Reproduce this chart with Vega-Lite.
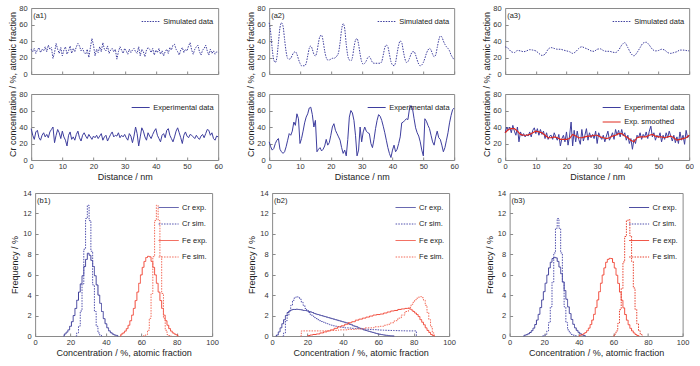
{
"$schema": "https://vega.github.io/schema/vega-lite/v6.json",
"background": "white",
"padding": {"left": 7, "top": 3, "right": 0, "bottom": 0},
"config": {
  "font": "Liberation Sans",
  "numberFormat": "d",
  "view": {"stroke": "#8a8a8a", "strokeWidth": 1},
  "axis": {"domain": false, "grid": false, "tickColor": "#8a8a8a", "tickSize": -3, "tickWidth": 1, "labelFontSize": 7.5, "labelColor": "#333333", "labelPadding": 5, "titleFontSize": 9, "titleFontWeight": "normal", "titleColor": "#222222", "labelFlush": false, "labelOverlap": false},
  "axisX": {"titlePadding": 3},
  "axisY": {"titlePadding": 3, "labelPadding": 7},
  "legend": {"orient": "top-right", "offset": 4, "padding": 0, "labelFontSize": 7.5, "labelColor": "#222222", "symbolType": "stroke", "symbolSize": 324, "symbolStrokeWidth": 1, "rowPadding": 1.5, "labelOffset": 3},
  "line": {"strokeWidth": 1}
},
"datasets": {
"a1s": [{"x":0,"y":30},{"x":0.5,"y":27},{"x":1,"y":31},{"x":1.5,"y":25},{"x":2,"y":29},{"x":2.5,"y":32},{"x":3,"y":26},{"x":3.5,"y":30},{"x":4,"y":28},{"x":4.5,"y":33},{"x":5,"y":27},{"x":5.5,"y":35},{"x":6,"y":30},{"x":6.5,"y":32},{"x":7,"y":19},{"x":7.5,"y":26},{"x":8,"y":37},{"x":8.5,"y":30},{"x":9,"y":25},{"x":9.5,"y":32},{"x":10,"y":22},{"x":10.5,"y":29},{"x":11,"y":33},{"x":11.5,"y":24},{"x":12,"y":28},{"x":12.5,"y":34},{"x":13,"y":25},{"x":13.5,"y":31},{"x":14,"y":27},{"x":14.5,"y":33},{"x":15,"y":37},{"x":15.5,"y":34},{"x":16,"y":28},{"x":16.5,"y":31},{"x":17,"y":26},{"x":17.5,"y":24},{"x":18,"y":30},{"x":18.5,"y":20},{"x":19,"y":32},{"x":19.5,"y":43},{"x":20,"y":35},{"x":20.5,"y":22},{"x":21,"y":30},{"x":21.5,"y":26},{"x":22,"y":33},{"x":22.5,"y":27},{"x":23,"y":38},{"x":23.5,"y":30},{"x":24,"y":28},{"x":24.5,"y":34},{"x":25,"y":25},{"x":25.5,"y":29},{"x":26,"y":31},{"x":26.5,"y":27},{"x":27,"y":30},{"x":27.5,"y":18},{"x":28,"y":27},{"x":28.5,"y":33},{"x":29,"y":29},{"x":29.5,"y":25},{"x":30,"y":31},{"x":30.5,"y":28},{"x":31,"y":24},{"x":31.5,"y":30},{"x":32,"y":26},{"x":32.5,"y":29},{"x":33,"y":31},{"x":33.5,"y":27},{"x":34,"y":25},{"x":34.5,"y":33},{"x":35,"y":22},{"x":35.5,"y":30},{"x":36,"y":27},{"x":36.5,"y":21},{"x":37,"y":29},{"x":37.5,"y":32},{"x":38,"y":30},{"x":38.5,"y":26},{"x":39,"y":31},{"x":39.5,"y":23},{"x":40,"y":29},{"x":40.5,"y":26},{"x":41,"y":31},{"x":41.5,"y":24},{"x":42,"y":28},{"x":42.5,"y":22},{"x":43,"y":27},{"x":43.5,"y":30},{"x":44,"y":25},{"x":44.5,"y":32},{"x":45,"y":29},{"x":45.5,"y":35},{"x":46,"y":36},{"x":46.5,"y":30},{"x":47,"y":27},{"x":47.5,"y":23},{"x":48,"y":29},{"x":48.5,"y":32},{"x":49,"y":26},{"x":49.5,"y":30},{"x":50,"y":28},{"x":50.5,"y":34},{"x":51,"y":38},{"x":51.5,"y":29},{"x":52,"y":24},{"x":52.5,"y":30},{"x":53,"y":33},{"x":53.5,"y":35},{"x":54,"y":27},{"x":54.5,"y":23},{"x":55,"y":29},{"x":55.5,"y":31},{"x":56,"y":35},{"x":56.5,"y":28},{"x":57,"y":23},{"x":57.5,"y":30},{"x":58,"y":25},{"x":58.5,"y":28},{"x":59,"y":24},{"x":59.5,"y":27},{"x":60,"y":26}],
"a1e": [{"x":0,"y":38},{"x":0.5,"y":30},{"x":1,"y":25},{"x":1.5,"y":34},{"x":2,"y":36},{"x":2.5,"y":27},{"x":3,"y":24},{"x":3.5,"y":30},{"x":4,"y":33},{"x":4.5,"y":28},{"x":5,"y":31},{"x":5.5,"y":27},{"x":6,"y":34},{"x":6.5,"y":37},{"x":7,"y":40},{"x":7.5,"y":21},{"x":8,"y":30},{"x":8.5,"y":37},{"x":9,"y":33},{"x":9.5,"y":26},{"x":10,"y":35},{"x":10.5,"y":28},{"x":11,"y":24},{"x":11.5,"y":17},{"x":12,"y":30},{"x":12.5,"y":34},{"x":13,"y":25},{"x":13.5,"y":28},{"x":14,"y":24},{"x":14.5,"y":31},{"x":15,"y":35},{"x":15.5,"y":27},{"x":16,"y":23},{"x":16.5,"y":30},{"x":17,"y":33},{"x":17.5,"y":29},{"x":18,"y":26},{"x":18.5,"y":31},{"x":19,"y":28},{"x":19.5,"y":25},{"x":20,"y":29},{"x":20.5,"y":27},{"x":21,"y":30},{"x":21.5,"y":26},{"x":22,"y":29},{"x":22.5,"y":32},{"x":23,"y":24},{"x":23.5,"y":28},{"x":24,"y":30},{"x":24.5,"y":23},{"x":25,"y":27},{"x":25.5,"y":31},{"x":26,"y":34},{"x":26.5,"y":28},{"x":27,"y":30},{"x":27.5,"y":29},{"x":28,"y":33},{"x":28.5,"y":27},{"x":29,"y":30},{"x":29.5,"y":28},{"x":30,"y":31},{"x":30.5,"y":27},{"x":31,"y":24},{"x":31.5,"y":32},{"x":32,"y":29},{"x":32.5,"y":21},{"x":33,"y":29},{"x":33.5,"y":40},{"x":34,"y":32},{"x":34.5,"y":17},{"x":35,"y":28},{"x":35.5,"y":39},{"x":36,"y":35},{"x":36.5,"y":28},{"x":37,"y":24},{"x":37.5,"y":33},{"x":38,"y":29},{"x":38.5,"y":26},{"x":39,"y":31},{"x":39.5,"y":35},{"x":40,"y":38},{"x":40.5,"y":30},{"x":41,"y":26},{"x":41.5,"y":22},{"x":42,"y":30},{"x":42.5,"y":32},{"x":43,"y":27},{"x":43.5,"y":36},{"x":44,"y":38},{"x":44.5,"y":30},{"x":45,"y":26},{"x":45.5,"y":22},{"x":46,"y":28},{"x":46.5,"y":35},{"x":47,"y":39},{"x":47.5,"y":33},{"x":48,"y":27},{"x":48.5,"y":20},{"x":49,"y":30},{"x":49.5,"y":34},{"x":50,"y":29},{"x":50.5,"y":27},{"x":51,"y":31},{"x":51.5,"y":30},{"x":52,"y":28},{"x":52.5,"y":26},{"x":53,"y":30},{"x":53.5,"y":27},{"x":54,"y":25},{"x":54.5,"y":29},{"x":55,"y":31},{"x":55.5,"y":27},{"x":56,"y":32},{"x":56.5,"y":37},{"x":57,"y":36},{"x":57.5,"y":30},{"x":58,"y":33},{"x":58.5,"y":26},{"x":59,"y":24},{"x":59.5,"y":29},{"x":60,"y":28}],
"a2s": [{"x":0,"y":62},{"x":0.5,"y":50},{"x":1,"y":30},{"x":1.5,"y":17},{"x":2,"y":14},{"x":2.5,"y":20},{"x":3,"y":38},{"x":3.5,"y":56},{"x":4,"y":62},{"x":4.5,"y":58},{"x":5,"y":42},{"x":5.5,"y":27},{"x":6,"y":19},{"x":6.5,"y":18},{"x":7,"y":19},{"x":7.5,"y":23},{"x":8,"y":26},{"x":8.5,"y":27},{"x":9,"y":24},{"x":9.5,"y":18},{"x":10,"y":13},{"x":10.5,"y":10},{"x":11,"y":10},{"x":11.5,"y":10},{"x":12,"y":13},{"x":12.5,"y":22},{"x":13,"y":31},{"x":13.5,"y":34},{"x":14,"y":30},{"x":14.5,"y":24},{"x":15,"y":22},{"x":15.5,"y":27},{"x":16,"y":38},{"x":16.5,"y":46},{"x":17,"y":47},{"x":17.5,"y":40},{"x":18,"y":28},{"x":18.5,"y":20},{"x":19,"y":17},{"x":19.5,"y":17},{"x":20,"y":18},{"x":20.5,"y":19},{"x":21,"y":19},{"x":21.5,"y":20},{"x":22,"y":22},{"x":22.5,"y":26},{"x":23,"y":38},{"x":23.5,"y":54},{"x":24,"y":61},{"x":24.5,"y":55},{"x":25,"y":36},{"x":25.5,"y":22},{"x":26,"y":17},{"x":26.5,"y":16},{"x":27,"y":20},{"x":27.5,"y":32},{"x":28,"y":41},{"x":28.5,"y":43},{"x":29,"y":36},{"x":29.5,"y":24},{"x":30,"y":15},{"x":30.5,"y":12},{"x":31,"y":13},{"x":31.5,"y":16},{"x":32,"y":20},{"x":32.5,"y":21},{"x":33,"y":18},{"x":33.5,"y":14},{"x":34,"y":13},{"x":34.5,"y":13},{"x":35,"y":13},{"x":35.5,"y":13},{"x":36,"y":13},{"x":36.5,"y":15},{"x":37,"y":23},{"x":37.5,"y":32},{"x":38,"y":35},{"x":38.5,"y":33},{"x":39,"y":24},{"x":39.5,"y":15},{"x":40,"y":11},{"x":40.5,"y":10},{"x":41,"y":14},{"x":41.5,"y":25},{"x":42,"y":35},{"x":42.5,"y":40},{"x":43,"y":38},{"x":43.5,"y":28},{"x":44,"y":19},{"x":44.5,"y":14},{"x":45,"y":15},{"x":45.5,"y":19},{"x":46,"y":24},{"x":46.5,"y":27},{"x":47,"y":27},{"x":47.5,"y":23},{"x":48,"y":17},{"x":48.5,"y":12},{"x":49,"y":10},{"x":49.5,"y":11},{"x":50,"y":14},{"x":50.5,"y":19},{"x":51,"y":25},{"x":51.5,"y":29},{"x":52,"y":31},{"x":52.5,"y":29},{"x":53,"y":24},{"x":53.5,"y":21},{"x":54,"y":23},{"x":54.5,"y":32},{"x":55,"y":41},{"x":55.5,"y":46},{"x":56,"y":45},{"x":56.5,"y":40},{"x":57,"y":36},{"x":57.5,"y":33},{"x":58,"y":31},{"x":58.5,"y":28},{"x":59,"y":23},{"x":59.5,"y":20},{"x":60,"y":17}],
"a2e": [{"x":0,"y":22},{"x":0.5,"y":16},{"x":1,"y":12},{"x":1.5,"y":14},{"x":2,"y":20},{"x":2.5,"y":24},{"x":3,"y":26},{"x":3.5,"y":13},{"x":4,"y":10},{"x":4.5,"y":8},{"x":5,"y":10},{"x":5.5,"y":16},{"x":6,"y":24},{"x":6.5,"y":32},{"x":7,"y":30},{"x":7.5,"y":35},{"x":8,"y":46},{"x":8.5,"y":42},{"x":9,"y":56},{"x":9.5,"y":50},{"x":10,"y":20},{"x":10.5,"y":26},{"x":11,"y":35},{"x":11.5,"y":45},{"x":12,"y":52},{"x":12.5,"y":56},{"x":13,"y":63},{"x":13.5,"y":64},{"x":14,"y":55},{"x":14.5,"y":40},{"x":15,"y":48},{"x":15.5,"y":10},{"x":16,"y":13},{"x":16.5,"y":15},{"x":17,"y":11},{"x":17.5,"y":13},{"x":18,"y":17},{"x":18.5,"y":25},{"x":19,"y":18},{"x":19.5,"y":21},{"x":20,"y":30},{"x":20.5,"y":40},{"x":21,"y":44},{"x":21.5,"y":36},{"x":22,"y":32},{"x":22.5,"y":28},{"x":23,"y":24},{"x":23.5,"y":15},{"x":24,"y":8},{"x":24.5,"y":12},{"x":25,"y":5},{"x":25.5,"y":25},{"x":26,"y":52},{"x":26.5,"y":60},{"x":27,"y":57},{"x":27.5,"y":48},{"x":28,"y":30},{"x":28.5,"y":5},{"x":29,"y":12},{"x":29.5,"y":40},{"x":30,"y":22},{"x":30.5,"y":34},{"x":31,"y":40},{"x":31.5,"y":35},{"x":32,"y":33},{"x":32.5,"y":32},{"x":33,"y":20},{"x":33.5,"y":15},{"x":34,"y":25},{"x":34.5,"y":38},{"x":35,"y":48},{"x":35.5,"y":55},{"x":36,"y":53},{"x":36.5,"y":48},{"x":37,"y":41},{"x":37.5,"y":33},{"x":38,"y":24},{"x":38.5,"y":15},{"x":39,"y":8},{"x":39.5,"y":3},{"x":40,"y":12},{"x":40.5,"y":18},{"x":41,"y":10},{"x":41.5,"y":13},{"x":42,"y":20},{"x":42.5,"y":28},{"x":43,"y":45},{"x":43.5,"y":46},{"x":44,"y":48},{"x":44.5,"y":50},{"x":45,"y":49},{"x":45.5,"y":62},{"x":46,"y":66},{"x":46.5,"y":62},{"x":47,"y":50},{"x":47.5,"y":39},{"x":48,"y":33},{"x":48.5,"y":29},{"x":49,"y":22},{"x":49.5,"y":12},{"x":50,"y":5},{"x":50.5,"y":50},{"x":51,"y":47},{"x":51.5,"y":42},{"x":52,"y":38},{"x":52.5,"y":30},{"x":53,"y":22},{"x":53.5,"y":18},{"x":54,"y":28},{"x":54.5,"y":35},{"x":55,"y":27},{"x":55.5,"y":25},{"x":56,"y":18},{"x":56.5,"y":10},{"x":57,"y":15},{"x":57.5,"y":24},{"x":58,"y":33},{"x":58.5,"y":45},{"x":59,"y":54},{"x":59.5,"y":61},{"x":60,"y":63}],
"a3s": [{"x":0,"y":33},{"x":1,"y":31},{"x":2,"y":27},{"x":3,"y":26},{"x":4,"y":28.5},{"x":5,"y":28},{"x":6,"y":27},{"x":7,"y":28},{"x":8,"y":29.5},{"x":9,"y":29},{"x":10,"y":28},{"x":11,"y":25},{"x":12,"y":22.5},{"x":13,"y":24},{"x":14,"y":30},{"x":15,"y":32},{"x":16,"y":31},{"x":17,"y":30},{"x":18,"y":30},{"x":19,"y":29},{"x":20,"y":28},{"x":21,"y":27},{"x":22,"y":25},{"x":23,"y":27},{"x":24,"y":31},{"x":25,"y":33},{"x":26,"y":31.5},{"x":27,"y":30},{"x":28,"y":28},{"x":29,"y":27.5},{"x":30,"y":30},{"x":31,"y":30.5},{"x":32,"y":28.5},{"x":33,"y":27.5},{"x":34,"y":27.5},{"x":35,"y":26.5},{"x":36,"y":26},{"x":37,"y":29},{"x":38,"y":35},{"x":39,"y":38},{"x":40,"y":32},{"x":41,"y":25},{"x":42,"y":22},{"x":43,"y":26},{"x":44,"y":32},{"x":45,"y":37.5},{"x":46,"y":38.5},{"x":47,"y":35},{"x":48,"y":30},{"x":49,"y":28},{"x":50,"y":28.5},{"x":51,"y":30},{"x":52,"y":29},{"x":53,"y":26},{"x":54,"y":25},{"x":55,"y":26},{"x":56,"y":27},{"x":57,"y":29},{"x":58,"y":29},{"x":59,"y":28.5},{"x":60,"y":28}],
"a3e": [{"x":0,"y":33},{"x":0.5,"y":40},{"x":1,"y":36},{"x":1.5,"y":40},{"x":2,"y":33},{"x":2.5,"y":42},{"x":3,"y":35},{"x":3.5,"y":30},{"x":4,"y":40},{"x":4.5,"y":22},{"x":5,"y":34},{"x":5.5,"y":29},{"x":6,"y":32},{"x":6.5,"y":28},{"x":7,"y":31},{"x":7.5,"y":29},{"x":8,"y":34},{"x":8.5,"y":28},{"x":9,"y":36},{"x":9.5,"y":39},{"x":10,"y":32},{"x":10.5,"y":38},{"x":11,"y":30},{"x":11.5,"y":37},{"x":12,"y":31},{"x":12.5,"y":35},{"x":13,"y":26},{"x":13.5,"y":33},{"x":14,"y":25},{"x":14.5,"y":29},{"x":15,"y":30},{"x":15.5,"y":25},{"x":16,"y":33},{"x":16.5,"y":28},{"x":17,"y":24},{"x":17.5,"y":31},{"x":18,"y":17},{"x":18.5,"y":26},{"x":19,"y":30},{"x":19.5,"y":22},{"x":20,"y":34},{"x":20.5,"y":18},{"x":21,"y":29},{"x":21.5,"y":46},{"x":22,"y":17},{"x":22.5,"y":36},{"x":23,"y":22},{"x":23.5,"y":35},{"x":24,"y":25},{"x":24.5,"y":19},{"x":25,"y":37},{"x":25.5,"y":23},{"x":26,"y":30},{"x":26.5,"y":38},{"x":27,"y":24},{"x":27.5,"y":33},{"x":28,"y":27},{"x":28.5,"y":31},{"x":29,"y":26},{"x":29.5,"y":35},{"x":30,"y":20},{"x":30.5,"y":33},{"x":31,"y":28},{"x":31.5,"y":25},{"x":32,"y":30},{"x":32.5,"y":22},{"x":33,"y":29},{"x":33.5,"y":35},{"x":34,"y":24},{"x":34.5,"y":28},{"x":35,"y":33},{"x":35.5,"y":25},{"x":36,"y":37},{"x":36.5,"y":30},{"x":37,"y":36},{"x":37.5,"y":28},{"x":38,"y":37},{"x":38.5,"y":29},{"x":39,"y":33},{"x":39.5,"y":24},{"x":40,"y":30},{"x":40.5,"y":20},{"x":41,"y":26},{"x":41.5,"y":13},{"x":42,"y":25},{"x":42.5,"y":20},{"x":43,"y":30},{"x":43.5,"y":27},{"x":44,"y":33},{"x":44.5,"y":25},{"x":45,"y":31},{"x":45.5,"y":28},{"x":46,"y":34},{"x":46.5,"y":26},{"x":47,"y":35},{"x":47.5,"y":41},{"x":48,"y":28},{"x":48.5,"y":33},{"x":49,"y":24},{"x":49.5,"y":30},{"x":50,"y":27},{"x":50.5,"y":33},{"x":51,"y":22},{"x":51.5,"y":30},{"x":52,"y":25},{"x":52.5,"y":33},{"x":53,"y":27},{"x":53.5,"y":35},{"x":54,"y":29},{"x":54.5,"y":23},{"x":55,"y":30},{"x":55.5,"y":21},{"x":56,"y":28},{"x":56.5,"y":20},{"x":57,"y":34},{"x":57.5,"y":24},{"x":58,"y":30},{"x":58.5,"y":19},{"x":59,"y":36},{"x":59.5,"y":27},{"x":60,"y":30}],
"a3m": [{"x":0,"y":33},{"x":1,"y":37},{"x":2,"y":38},{"x":3,"y":38},{"x":4,"y":35},{"x":5,"y":31},{"x":6,"y":30},{"x":7,"y":30},{"x":8,"y":31},{"x":9,"y":33},{"x":10,"y":35},{"x":11,"y":34},{"x":12,"y":33},{"x":13,"y":30},{"x":14,"y":27},{"x":15,"y":27},{"x":16,"y":28},{"x":17,"y":27},{"x":18,"y":25},{"x":19,"y":25},{"x":20,"y":25},{"x":21,"y":26},{"x":22,"y":31},{"x":23,"y":29},{"x":24,"y":27},{"x":25,"y":27},{"x":26,"y":28},{"x":27,"y":29},{"x":28,"y":29},{"x":29,"y":30},{"x":30,"y":30},{"x":31,"y":28},{"x":32,"y":27},{"x":33,"y":26},{"x":34,"y":27},{"x":35,"y":29},{"x":36,"y":30},{"x":37,"y":32},{"x":38,"y":32},{"x":39,"y":29},{"x":40,"y":27},{"x":41,"y":24},{"x":42,"y":22},{"x":43,"y":27},{"x":44,"y":28},{"x":45,"y":28},{"x":46,"y":28},{"x":47,"y":30},{"x":48,"y":31},{"x":49,"y":29},{"x":50,"y":28},{"x":51,"y":28},{"x":52,"y":27},{"x":53,"y":28},{"x":54,"y":29},{"x":55,"y":27},{"x":56,"y":24},{"x":57,"y":25},{"x":58,"y":26},{"x":59,"y":27},{"x":60,"y":30}],
"b1": [
{"s":"Cr exp.","x":16,"y":0},{"s":"Cr exp.","x":17,"y":0.2},{"s":"Cr exp.","x":18,"y":0.38},{"s":"Cr exp.","x":19,"y":0.6},{"s":"Cr exp.","x":20,"y":0.95},{"s":"Cr exp.","x":21,"y":1.4},{"s":"Cr exp.","x":22,"y":2.0},{"s":"Cr exp.","x":23,"y":2.7},{"s":"Cr exp.","x":24,"y":3.5},{"s":"Cr exp.","x":25,"y":4.3},{"s":"Cr exp.","x":26,"y":5.1},{"s":"Cr exp.","x":27,"y":5.9},{"s":"Cr exp.","x":28,"y":6.8},{"s":"Cr exp.","x":29,"y":7.5},{"s":"Cr exp.","x":30,"y":8.1},{"s":"Cr exp.","x":31,"y":7.9},{"s":"Cr exp.","x":32,"y":7.4},{"s":"Cr exp.","x":33,"y":6.8},{"s":"Cr exp.","x":34,"y":5.9},{"s":"Cr exp.","x":35,"y":5.0},{"s":"Cr exp.","x":36,"y":4.0},{"s":"Cr exp.","x":37,"y":3.2},{"s":"Cr exp.","x":38,"y":2.4},{"s":"Cr exp.","x":39,"y":1.7},{"s":"Cr exp.","x":40,"y":1.2},{"s":"Cr exp.","x":41,"y":0.8},{"s":"Cr exp.","x":42,"y":0.5},{"s":"Cr exp.","x":43,"y":0.32},{"s":"Cr exp.","x":44,"y":0.19},{"s":"Cr exp.","x":45,"y":0.1},{"s":"Cr exp.","x":46,"y":0.06},{"s":"Cr exp.","x":47,"y":0},
{"s":"Cr sim.","x":23,"y":0},{"s":"Cr sim.","x":24,"y":0.31},{"s":"Cr sim.","x":25,"y":0.97},{"s":"Cr sim.","x":26,"y":2.45},{"s":"Cr sim.","x":27,"y":5.1},{"s":"Cr sim.","x":28,"y":8.5},{"s":"Cr sim.","x":29,"y":11.5},{"s":"Cr sim.","x":30,"y":12.8},{"s":"Cr sim.","x":31,"y":11.3},{"s":"Cr sim.","x":32,"y":8.3},{"s":"Cr sim.","x":33,"y":5.0},{"s":"Cr sim.","x":34,"y":2.4},{"s":"Cr sim.","x":35,"y":0.95},{"s":"Cr sim.","x":36,"y":0.3},{"s":"Cr sim.","x":37,"y":0.08},{"s":"Cr sim.","x":38,"y":0},
{"s":"Fe exp.","x":48,"y":0},{"s":"Fe exp.","x":49,"y":0.19},{"s":"Fe exp.","x":50,"y":0.3},{"s":"Fe exp.","x":51,"y":0.48},{"s":"Fe exp.","x":52,"y":0.72},{"s":"Fe exp.","x":53,"y":1.05},{"s":"Fe exp.","x":54,"y":1.49},{"s":"Fe exp.","x":55,"y":2.04},{"s":"Fe exp.","x":56,"y":2.7},{"s":"Fe exp.","x":57,"y":3.47},{"s":"Fe exp.","x":58,"y":4.3},{"s":"Fe exp.","x":59,"y":5.16},{"s":"Fe exp.","x":60,"y":5.98},{"s":"Fe exp.","x":61,"y":6.72},{"s":"Fe exp.","x":62,"y":7.3},{"s":"Fe exp.","x":63,"y":7.68},{"s":"Fe exp.","x":64,"y":7.8},{"s":"Fe exp.","x":65,"y":7.75},{"s":"Fe exp.","x":66,"y":7.3},{"s":"Fe exp.","x":67,"y":6.72},{"s":"Fe exp.","x":68,"y":5.98},{"s":"Fe exp.","x":69,"y":5.16},{"s":"Fe exp.","x":70,"y":4.3},{"s":"Fe exp.","x":71,"y":3.47},{"s":"Fe exp.","x":72,"y":2.7},{"s":"Fe exp.","x":73,"y":2.04},{"s":"Fe exp.","x":74,"y":1.49},{"s":"Fe exp.","x":75,"y":1.05},{"s":"Fe exp.","x":76,"y":0.72},{"s":"Fe exp.","x":77,"y":0.48},{"s":"Fe exp.","x":78,"y":0.3},{"s":"Fe exp.","x":79,"y":0.19},{"s":"Fe exp.","x":80,"y":0.11},{"s":"Fe exp.","x":81,"y":0},
{"s":"Fe sim.","x":61,"y":0},{"s":"Fe sim.","x":62,"y":0.05},{"s":"Fe sim.","x":63,"y":0.14},{"s":"Fe sim.","x":64,"y":0.56},{"s":"Fe sim.","x":65,"y":1.73},{"s":"Fe sim.","x":66,"y":4.16},{"s":"Fe sim.","x":67,"y":7.77},{"s":"Fe sim.","x":68,"y":11.3},{"s":"Fe sim.","x":69,"y":12.8},{"s":"Fe sim.","x":70,"y":11.3},{"s":"Fe sim.","x":71,"y":7.77},{"s":"Fe sim.","x":72,"y":4.16},{"s":"Fe sim.","x":73,"y":1.73},{"s":"Fe sim.","x":74,"y":0.56},{"s":"Fe sim.","x":75,"y":0.14},{"s":"Fe sim.","x":76,"y":0.05},{"s":"Fe sim.","x":77,"y":0}],
"b2": [
{"s":"Cr exp.","x":2,"y":0},{"s":"Cr exp.","x":3,"y":0.1},{"s":"Cr exp.","x":4,"y":0.4},{"s":"Cr exp.","x":5,"y":0.8},{"s":"Cr exp.","x":6,"y":1.2},{"s":"Cr exp.","x":7,"y":1.6},{"s":"Cr exp.","x":8,"y":2.0},{"s":"Cr exp.","x":9,"y":2.3},{"s":"Cr exp.","x":10,"y":2.45},{"s":"Cr exp.","x":11,"y":2.55},{"s":"Cr exp.","x":12,"y":2.6},{"s":"Cr exp.","x":13,"y":2.6},{"s":"Cr exp.","x":14,"y":2.62},{"s":"Cr exp.","x":15,"y":2.6},{"s":"Cr exp.","x":16,"y":2.58},{"s":"Cr exp.","x":17,"y":2.55},{"s":"Cr exp.","x":18,"y":2.5},{"s":"Cr exp.","x":19,"y":2.5},{"s":"Cr exp.","x":20,"y":2.45},{"s":"Cr exp.","x":21,"y":2.4},{"s":"Cr exp.","x":22,"y":2.35},{"s":"Cr exp.","x":23,"y":2.3},{"s":"Cr exp.","x":24,"y":2.2},{"s":"Cr exp.","x":25,"y":2.15},{"s":"Cr exp.","x":26,"y":2.1},{"s":"Cr exp.","x":27,"y":2.05},{"s":"Cr exp.","x":28,"y":2.0},{"s":"Cr exp.","x":29,"y":1.95},{"s":"Cr exp.","x":30,"y":1.9},{"s":"Cr exp.","x":31,"y":1.85},{"s":"Cr exp.","x":32,"y":1.8},{"s":"Cr exp.","x":33,"y":1.75},{"s":"Cr exp.","x":34,"y":1.7},{"s":"Cr exp.","x":35,"y":1.65},{"s":"Cr exp.","x":36,"y":1.6},{"s":"Cr exp.","x":37,"y":1.55},{"s":"Cr exp.","x":38,"y":1.5},{"s":"Cr exp.","x":39,"y":1.45},{"s":"Cr exp.","x":40,"y":1.4},{"s":"Cr exp.","x":41,"y":1.35},{"s":"Cr exp.","x":42,"y":1.3},{"s":"Cr exp.","x":43,"y":1.25},{"s":"Cr exp.","x":44,"y":1.15},{"s":"Cr exp.","x":45,"y":1.1},{"s":"Cr exp.","x":46,"y":1.0},{"s":"Cr exp.","x":47,"y":0.95},{"s":"Cr exp.","x":48,"y":0.9},{"s":"Cr exp.","x":49,"y":0.8},{"s":"Cr exp.","x":50,"y":0.75},{"s":"Cr exp.","x":51,"y":0.7},{"s":"Cr exp.","x":52,"y":0.6},{"s":"Cr exp.","x":53,"y":0.55},{"s":"Cr exp.","x":54,"y":0.5},{"s":"Cr exp.","x":55,"y":0.45},{"s":"Cr exp.","x":56,"y":0.4},{"s":"Cr exp.","x":57,"y":0.35},{"s":"Cr exp.","x":58,"y":0.3},{"s":"Cr exp.","x":59,"y":0.25},{"s":"Cr exp.","x":60,"y":0.2},{"s":"Cr exp.","x":61,"y":0.17},{"s":"Cr exp.","x":62,"y":0.14},{"s":"Cr exp.","x":63,"y":0.11},{"s":"Cr exp.","x":64,"y":0.08},{"s":"Cr exp.","x":65,"y":0.06},{"s":"Cr exp.","x":66,"y":0.04},{"s":"Cr exp.","x":67,"y":0.02},{"s":"Cr exp.","x":68,"y":0.01},{"s":"Cr exp.","x":69,"y":0},
{"s":"Cr sim.","x":6,"y":0},{"s":"Cr sim.","x":7,"y":0.3},{"s":"Cr sim.","x":8,"y":1.5},{"s":"Cr sim.","x":9,"y":2.0},{"s":"Cr sim.","x":10,"y":2.5},{"s":"Cr sim.","x":11,"y":3.0},{"s":"Cr sim.","x":12,"y":3.5},{"s":"Cr sim.","x":13,"y":3.75},{"s":"Cr sim.","x":14,"y":3.85},{"s":"Cr sim.","x":15,"y":3.8},{"s":"Cr sim.","x":16,"y":3.6},{"s":"Cr sim.","x":17,"y":3.3},{"s":"Cr sim.","x":18,"y":3.0},{"s":"Cr sim.","x":19,"y":2.7},{"s":"Cr sim.","x":20,"y":2.5},{"s":"Cr sim.","x":21,"y":2.3},{"s":"Cr sim.","x":22,"y":2.1},{"s":"Cr sim.","x":23,"y":1.95},{"s":"Cr sim.","x":24,"y":1.8},{"s":"Cr sim.","x":25,"y":1.7},{"s":"Cr sim.","x":26,"y":1.6},{"s":"Cr sim.","x":27,"y":1.5},{"s":"Cr sim.","x":28,"y":1.42},{"s":"Cr sim.","x":29,"y":1.35},{"s":"Cr sim.","x":30,"y":1.28},{"s":"Cr sim.","x":31,"y":1.22},{"s":"Cr sim.","x":32,"y":1.16},{"s":"Cr sim.","x":33,"y":1.1},{"s":"Cr sim.","x":34,"y":1.05},{"s":"Cr sim.","x":35,"y":1.0},{"s":"Cr sim.","x":36,"y":0.96},{"s":"Cr sim.","x":37,"y":0.93},{"s":"Cr sim.","x":38,"y":0.9},{"s":"Cr sim.","x":39,"y":0.87},{"s":"Cr sim.","x":40,"y":0.85},{"s":"Cr sim.","x":42,"y":0.8},{"s":"Cr sim.","x":44,"y":0.78},{"s":"Cr sim.","x":46,"y":0.75},{"s":"Cr sim.","x":48,"y":0.72},{"s":"Cr sim.","x":50,"y":0.7},{"s":"Cr sim.","x":52,"y":0.68},{"s":"Cr sim.","x":54,"y":0.66},{"s":"Cr sim.","x":56,"y":0.64},{"s":"Cr sim.","x":58,"y":0.62},{"s":"Cr sim.","x":60,"y":0.6},{"s":"Cr sim.","x":62,"y":0.58},{"s":"Cr sim.","x":64,"y":0.56},{"s":"Cr sim.","x":66,"y":0.55},{"s":"Cr sim.","x":68,"y":0.54},{"s":"Cr sim.","x":70,"y":0.53},{"s":"Cr sim.","x":72,"y":0.52},{"s":"Cr sim.","x":74,"y":0.51},{"s":"Cr sim.","x":76,"y":0.5},{"s":"Cr sim.","x":78,"y":0.5},{"s":"Cr sim.","x":80,"y":0.5},{"s":"Cr sim.","x":81,"y":0.5},{"s":"Cr sim.","x":82,"y":0},
{"s":"Fe exp.","x":20,"y":0},{"s":"Fe exp.","x":21,"y":0.05},{"s":"Fe exp.","x":22,"y":0.1},{"s":"Fe exp.","x":24,"y":0.15},{"s":"Fe exp.","x":26,"y":0.2},{"s":"Fe exp.","x":28,"y":0.3},{"s":"Fe exp.","x":30,"y":0.4},{"s":"Fe exp.","x":32,"y":0.5},{"s":"Fe exp.","x":34,"y":0.6},{"s":"Fe exp.","x":36,"y":0.75},{"s":"Fe exp.","x":38,"y":0.9},{"s":"Fe exp.","x":40,"y":1.0},{"s":"Fe exp.","x":42,"y":1.15},{"s":"Fe exp.","x":44,"y":1.3},{"s":"Fe exp.","x":46,"y":1.4},{"s":"Fe exp.","x":48,"y":1.55},{"s":"Fe exp.","x":50,"y":1.65},{"s":"Fe exp.","x":52,"y":1.75},{"s":"Fe exp.","x":54,"y":1.85},{"s":"Fe exp.","x":56,"y":1.95},{"s":"Fe exp.","x":58,"y":2.05},{"s":"Fe exp.","x":60,"y":2.1},{"s":"Fe exp.","x":62,"y":2.15},{"s":"Fe exp.","x":64,"y":2.25},{"s":"Fe exp.","x":66,"y":2.35},{"s":"Fe exp.","x":68,"y":2.45},{"s":"Fe exp.","x":70,"y":2.5},{"s":"Fe exp.","x":72,"y":2.6},{"s":"Fe exp.","x":74,"y":2.65},{"s":"Fe exp.","x":76,"y":2.7},{"s":"Fe exp.","x":77,"y":2.7},{"s":"Fe exp.","x":78,"y":2.65},{"s":"Fe exp.","x":79,"y":2.55},{"s":"Fe exp.","x":80,"y":2.4},{"s":"Fe exp.","x":81,"y":2.25},{"s":"Fe exp.","x":82,"y":2.1},{"s":"Fe exp.","x":83,"y":1.9},{"s":"Fe exp.","x":84,"y":1.6},{"s":"Fe exp.","x":85,"y":1.35},{"s":"Fe exp.","x":86,"y":1.1},{"s":"Fe exp.","x":87,"y":0.8},{"s":"Fe exp.","x":88,"y":0.55},{"s":"Fe exp.","x":89,"y":0.35},{"s":"Fe exp.","x":90,"y":0.15},{"s":"Fe exp.","x":91,"y":0.05},{"s":"Fe exp.","x":92,"y":0},
{"s":"Fe sim.","x":16,"y":0},{"s":"Fe sim.","x":17,"y":0.5},{"s":"Fe sim.","x":20,"y":0.5},{"s":"Fe sim.","x":25,"y":0.5},{"s":"Fe sim.","x":30,"y":0.5},{"s":"Fe sim.","x":35,"y":0.55},{"s":"Fe sim.","x":40,"y":0.6},{"s":"Fe sim.","x":45,"y":0.65},{"s":"Fe sim.","x":50,"y":0.7},{"s":"Fe sim.","x":55,"y":0.8},{"s":"Fe sim.","x":60,"y":0.9},{"s":"Fe sim.","x":62,"y":0.95},{"s":"Fe sim.","x":64,"y":1.05},{"s":"Fe sim.","x":66,"y":1.15},{"s":"Fe sim.","x":68,"y":1.3},{"s":"Fe sim.","x":70,"y":1.5},{"s":"Fe sim.","x":72,"y":1.75},{"s":"Fe sim.","x":74,"y":2.05},{"s":"Fe sim.","x":76,"y":2.4},{"s":"Fe sim.","x":78,"y":2.8},{"s":"Fe sim.","x":79,"y":3.1},{"s":"Fe sim.","x":80,"y":3.3},{"s":"Fe sim.","x":81,"y":3.55},{"s":"Fe sim.","x":82,"y":3.7},{"s":"Fe sim.","x":83,"y":3.8},{"s":"Fe sim.","x":84,"y":3.85},{"s":"Fe sim.","x":85,"y":3.75},{"s":"Fe sim.","x":86,"y":3.5},{"s":"Fe sim.","x":87,"y":3.0},{"s":"Fe sim.","x":88,"y":2.3},{"s":"Fe sim.","x":89,"y":1.6},{"s":"Fe sim.","x":90,"y":0.9},{"s":"Fe sim.","x":91,"y":0.3},{"s":"Fe sim.","x":92,"y":0}],
"b3": [
{"s":"Cr exp.","x":8,"y":0},{"s":"Cr exp.","x":9,"y":0.08},{"s":"Cr exp.","x":10,"y":0.13},{"s":"Cr exp.","x":11,"y":0.22},{"s":"Cr exp.","x":12,"y":0.34},{"s":"Cr exp.","x":13,"y":0.52},{"s":"Cr exp.","x":14,"y":0.77},{"s":"Cr exp.","x":15,"y":1.12},{"s":"Cr exp.","x":16,"y":1.56},{"s":"Cr exp.","x":17,"y":2.12},{"s":"Cr exp.","x":18,"y":2.78},{"s":"Cr exp.","x":19,"y":3.53},{"s":"Cr exp.","x":20,"y":4.34},{"s":"Cr exp.","x":21,"y":5.17},{"s":"Cr exp.","x":22,"y":5.97},{"s":"Cr exp.","x":23,"y":6.67},{"s":"Cr exp.","x":24,"y":7.22},{"s":"Cr exp.","x":25,"y":7.58},{"s":"Cr exp.","x":26,"y":7.7},{"s":"Cr exp.","x":27,"y":7.65},{"s":"Cr exp.","x":28,"y":7.3},{"s":"Cr exp.","x":29,"y":6.75},{"s":"Cr exp.","x":30,"y":6.1},{"s":"Cr exp.","x":31,"y":5.3},{"s":"Cr exp.","x":32,"y":4.45},{"s":"Cr exp.","x":33,"y":3.6},{"s":"Cr exp.","x":34,"y":2.85},{"s":"Cr exp.","x":35,"y":2.2},{"s":"Cr exp.","x":36,"y":1.62},{"s":"Cr exp.","x":37,"y":1.15},{"s":"Cr exp.","x":38,"y":0.8},{"s":"Cr exp.","x":39,"y":0.55},{"s":"Cr exp.","x":40,"y":0.36},{"s":"Cr exp.","x":41,"y":0.22},{"s":"Cr exp.","x":42,"y":0.12},{"s":"Cr exp.","x":43,"y":0.05},{"s":"Cr exp.","x":44,"y":0},
{"s":"Cr sim.","x":19,"y":0},{"s":"Cr sim.","x":20,"y":0.05},{"s":"Cr sim.","x":21,"y":0.16},{"s":"Cr sim.","x":22,"y":0.5},{"s":"Cr sim.","x":23,"y":1.31},{"s":"Cr sim.","x":24,"y":2.86},{"s":"Cr sim.","x":25,"y":5.27},{"s":"Cr sim.","x":26,"y":8.13},{"s":"Cr sim.","x":27,"y":10.55},{"s":"Cr sim.","x":28,"y":11.5},{"s":"Cr sim.","x":29,"y":10.55},{"s":"Cr sim.","x":30,"y":8.13},{"s":"Cr sim.","x":31,"y":5.27},{"s":"Cr sim.","x":32,"y":2.86},{"s":"Cr sim.","x":33,"y":1.31},{"s":"Cr sim.","x":34,"y":0.6},{"s":"Cr sim.","x":35,"y":0.3},{"s":"Cr sim.","x":36,"y":0.15},{"s":"Cr sim.","x":37,"y":0.08},{"s":"Cr sim.","x":38,"y":0.03},{"s":"Cr sim.","x":39,"y":0},
{"s":"Fe exp.","x":40,"y":0},{"s":"Fe exp.","x":41,"y":0.08},{"s":"Fe exp.","x":42,"y":0.13},{"s":"Fe exp.","x":43,"y":0.22},{"s":"Fe exp.","x":44,"y":0.34},{"s":"Fe exp.","x":45,"y":0.52},{"s":"Fe exp.","x":46,"y":0.77},{"s":"Fe exp.","x":47,"y":1.12},{"s":"Fe exp.","x":48,"y":1.56},{"s":"Fe exp.","x":49,"y":2.12},{"s":"Fe exp.","x":50,"y":2.78},{"s":"Fe exp.","x":51,"y":3.53},{"s":"Fe exp.","x":52,"y":4.34},{"s":"Fe exp.","x":53,"y":5.17},{"s":"Fe exp.","x":54,"y":5.97},{"s":"Fe exp.","x":55,"y":6.67},{"s":"Fe exp.","x":56,"y":7.22},{"s":"Fe exp.","x":57,"y":7.5},{"s":"Fe exp.","x":58,"y":7.6},{"s":"Fe exp.","x":59,"y":7.58},{"s":"Fe exp.","x":60,"y":7.2},{"s":"Fe exp.","x":61,"y":6.65},{"s":"Fe exp.","x":62,"y":5.95},{"s":"Fe exp.","x":63,"y":5.15},{"s":"Fe exp.","x":64,"y":4.3},{"s":"Fe exp.","x":65,"y":3.5},{"s":"Fe exp.","x":66,"y":2.75},{"s":"Fe exp.","x":67,"y":2.1},{"s":"Fe exp.","x":68,"y":1.55},{"s":"Fe exp.","x":69,"y":1.1},{"s":"Fe exp.","x":70,"y":0.75},{"s":"Fe exp.","x":71,"y":0.5},{"s":"Fe exp.","x":72,"y":0.3},{"s":"Fe exp.","x":73,"y":0.15},{"s":"Fe exp.","x":74,"y":0.05},{"s":"Fe exp.","x":75,"y":0},
{"s":"Fe sim.","x":60,"y":0},{"s":"Fe sim.","x":61,"y":0.18},{"s":"Fe sim.","x":62,"y":0.5},{"s":"Fe sim.","x":63,"y":1.23},{"s":"Fe sim.","x":64,"y":2.58},{"s":"Fe sim.","x":65,"y":4.65},{"s":"Fe sim.","x":66,"y":7.25},{"s":"Fe sim.","x":67,"y":9.74},{"s":"Fe sim.","x":68,"y":11.3},{"s":"Fe sim.","x":69,"y":11.4},{"s":"Fe sim.","x":70,"y":9.8},{"s":"Fe sim.","x":71,"y":7.3},{"s":"Fe sim.","x":72,"y":4.7},{"s":"Fe sim.","x":73,"y":2.6},{"s":"Fe sim.","x":74,"y":1.2},{"s":"Fe sim.","x":75,"y":0.5},{"s":"Fe sim.","x":76,"y":0.15},{"s":"Fe sim.","x":77,"y":0}]
},
"resolve": {"scale": {"color": "independent", "strokeDash": "independent"}, "legend": {"color": "independent", "strokeDash": "independent"}},
"spacing": 22,
"hconcat": [
{
 "vconcat": [
  {"vconcat": [
    {"width": 187, "height": 66, "layer": [
      {"data": {"name": "a1s"}, "mark": {"type": "line", "strokeWidth": 1, "strokeDash": [1.5, 1.2]},
       "encoding": {
        "x": {"field": "x", "type": "quantitative", "scale": {"domain": [0, 60]}, "axis": {"values": [0,10,20,30,40,50,60], "tickCount": 20, "format": "d", "labels": false, "title": null, "labelOverlap": false}},
        "y": {"field": "y", "type": "quantitative", "scale": {"domain": [0, 80]}, "axis": {"values": [0,20,40,60,80], "tickCount": 20, "format": "d", "title": null, "labelOverlap": false}},
        "color": {"datum": "Simulated data", "scale": {"range": ["#3e3e9e"]}, "legend": {"title": null, "symbolDash": [1.5, 1.2]}}}},
      {"data": {"values": [{"t": "(a1)"}]}, "mark": {"type": "text", "align": "left", "baseline": "middle", "dx": 2, "dy": 8, "fontSize": 7.5, "color": "#222222"},
       "encoding": {"x": {"datum": 0}, "y": {"datum": 80}, "text": {"field": "t"}}}
    ]},
    {"width": 187, "height": 66, "data": {"name": "a1e"}, "mark": {"type": "line", "strokeWidth": 1},
     "encoding": {
      "x": {"field": "x", "type": "quantitative", "scale": {"domain": [0, 60]}, "axis": {"values": [0,10,20,30,40,50,60], "tickCount": 20, "format": "d", "title": "Distance / nm", "labelOverlap": false}},
      "y": {"field": "y", "type": "quantitative", "scale": {"domain": [0, 80]}, "axis": {"values": [0,20,40,60,80], "tickCount": 20, "format": "d", "labelOverlap": false, "title": "Cr concentration / %, atomic fraction", "titleX": -14, "titleY": -10, "titleAlign": "center", "titleBaseline": "bottom", "titleAngle": -90}},
      "color": {"datum": "Experimental data", "scale": {"range": ["#3e3e9e"]}, "legend": {"title": null}}}}
   ], "spacing": 20, "bounds": "flush",
   "resolve": {"scale": {"color": "independent"}, "legend": {"color": "independent"}}},
  {"width": 177, "height": 143, "layer": [
    {"data": {"name": "b1"}, "mark": {"type": "line", "interpolate": "step", "strokeWidth": 1},
     "encoding": {
      "x": {"field": "x", "type": "quantitative", "scale": {"domain": [0, 100]}, "axis": {"values": [0,20,40,60,80,100], "tickCount": 20, "format": "d", "title": "Concentration / %, atomic fraction", "labelOverlap": false}},
      "y": {"field": "y", "type": "quantitative", "scale": {"domain": [0, 14]}, "axis": {"values": [0,2,4,6,8,10,12,14], "tickCount": 20, "format": "d", "title": "Frequency / %", "labelOverlap": false}},
      "color": {"field": "s", "type": "nominal", "scale": {"domain": ["Cr exp.", "Cr sim.", "Fe exp.", "Fe sim."], "range": ["#3b3b98", "#5050ad", "#f04535", "#f26a58"]}, "legend": {"title": null, "symbolSize": 400, "rowPadding": 2.5}},
      "strokeDash": {"field": "s", "type": "nominal", "scale": {"domain": ["Cr exp.", "Cr sim.", "Fe exp.", "Fe sim."], "range": [[1, 0], [1.5, 1.2], [1, 0], [1.5, 1.2]]}, "legend": {"title": null, "symbolSize": 400, "rowPadding": 2.5}}}},
    {"data": {"values": [{"t": "(b1)"}]}, "mark": {"type": "text", "align": "left", "baseline": "middle", "dx": 2, "dy": 8, "fontSize": 7.5, "color": "#222222"},
     "encoding": {"x": {"datum": 0}, "y": {"datum": 14}, "text": {"field": "t"}}}
  ]}
 ],
 "spacing": 6, "center": true,
 "resolve": {"scale": {"color": "independent", "strokeDash": "independent"}, "legend": {"color": "independent", "strokeDash": "independent"}}
},
{
 "vconcat": [
  {"vconcat": [
    {"width": 185, "height": 66, "layer": [
      {"data": {"name": "a2s"}, "mark": {"type": "line", "strokeWidth": 1, "strokeDash": [1.5, 1.2], "interpolate": "monotone"},
       "encoding": {
        "x": {"field": "x", "type": "quantitative", "scale": {"domain": [0, 60]}, "axis": {"values": [0,10,20,30,40,50,60], "tickCount": 20, "format": "d", "labels": false, "title": null, "labelOverlap": false}},
        "y": {"field": "y", "type": "quantitative", "scale": {"domain": [0, 80]}, "axis": {"values": [0,20,40,60,80], "tickCount": 20, "format": "d", "title": null, "labelOverlap": false}},
        "color": {"datum": "Simulated data", "scale": {"range": ["#3e3e9e"]}, "legend": {"title": null, "symbolDash": [1.5, 1.2]}}}},
      {"data": {"values": [{"t": "(a2)"}]}, "mark": {"type": "text", "align": "left", "baseline": "middle", "dx": 2, "dy": 8, "fontSize": 7.5, "color": "#222222"},
       "encoding": {"x": {"datum": 0}, "y": {"datum": 80}, "text": {"field": "t"}}}
    ]},
    {"width": 185, "height": 66, "data": {"name": "a2e"}, "mark": {"type": "line", "strokeWidth": 1},
     "encoding": {
      "x": {"field": "x", "type": "quantitative", "scale": {"domain": [0, 60]}, "axis": {"values": [0,10,20,30,40,50,60], "tickCount": 20, "format": "d", "title": "Distance / nm", "labelOverlap": false}},
      "y": {"field": "y", "type": "quantitative", "scale": {"domain": [0, 80]}, "axis": {"values": [0,20,40,60,80], "tickCount": 20, "format": "d", "labelOverlap": false, "title": "Cr concentration / %, atomic fraction", "titleX": -14, "titleY": -10, "titleAlign": "center", "titleBaseline": "bottom", "titleAngle": -90}},
      "color": {"datum": "Experimental data", "scale": {"range": ["#3e3e9e"]}, "legend": {"title": null}}}}
   ], "spacing": 20, "bounds": "flush",
   "resolve": {"scale": {"color": "independent"}, "legend": {"color": "independent"}}},
  {"width": 177, "height": 143, "layer": [
    {"data": {"name": "b2"}, "mark": {"type": "line", "interpolate": "step", "strokeWidth": 1},
     "encoding": {
      "x": {"field": "x", "type": "quantitative", "scale": {"domain": [0, 100]}, "axis": {"values": [0,20,40,60,80,100], "tickCount": 20, "format": "d", "title": "Concentration / %, atomic fraction", "labelOverlap": false}},
      "y": {"field": "y", "type": "quantitative", "scale": {"domain": [0, 14]}, "axis": {"values": [0,2,4,6,8,10,12,14], "tickCount": 20, "format": "d", "title": "Frequency / %", "labelOverlap": false}},
      "color": {"field": "s", "type": "nominal", "scale": {"domain": ["Cr exp.", "Cr sim.", "Fe exp.", "Fe sim."], "range": ["#3b3b98", "#5050ad", "#f04535", "#f26a58"]}, "legend": {"title": null, "symbolSize": 400, "rowPadding": 2.5}},
      "strokeDash": {"field": "s", "type": "nominal", "scale": {"domain": ["Cr exp.", "Cr sim.", "Fe exp.", "Fe sim."], "range": [[1, 0], [1.5, 1.2], [1, 0], [1.5, 1.2]]}, "legend": {"title": null, "symbolSize": 400, "rowPadding": 2.5}}}},
    {"data": {"values": [{"t": "(b2)"}]}, "mark": {"type": "text", "align": "left", "baseline": "middle", "dx": 2, "dy": 8, "fontSize": 7.5, "color": "#222222"},
     "encoding": {"x": {"datum": 0}, "y": {"datum": 14}, "text": {"field": "t"}}}
  ]}
 ],
 "spacing": 6, "center": true,
 "resolve": {"scale": {"color": "independent", "strokeDash": "independent"}, "legend": {"color": "independent", "strokeDash": "independent"}}
},
{
 "vconcat": [
  {"vconcat": [
    {"width": 184, "height": 66, "layer": [
      {"data": {"name": "a3s"}, "mark": {"type": "line", "strokeWidth": 1, "strokeDash": [1.5, 1.2], "interpolate": "monotone"},
       "encoding": {
        "x": {"field": "x", "type": "quantitative", "scale": {"domain": [0, 60]}, "axis": {"values": [0,10,20,30,40,50,60], "tickCount": 20, "format": "d", "labels": false, "title": null, "labelOverlap": false}},
        "y": {"field": "y", "type": "quantitative", "scale": {"domain": [0, 80]}, "axis": {"values": [0,20,40,60,80], "tickCount": 20, "format": "d", "title": null, "labelOverlap": false}},
        "color": {"datum": "Simulated data", "scale": {"range": ["#3e3e9e"]}, "legend": {"title": null, "symbolDash": [1.5, 1.2]}}}},
      {"data": {"values": [{"t": "(a3)"}]}, "mark": {"type": "text", "align": "left", "baseline": "middle", "dx": 2, "dy": 8, "fontSize": 7.5, "color": "#222222"},
       "encoding": {"x": {"datum": 0}, "y": {"datum": 80}, "text": {"field": "t"}}}
    ]},
    {"width": 184, "height": 66, "layer": [
      {"data": {"name": "a3e"}, "mark": {"type": "line", "strokeWidth": 1},
       "encoding": {
        "x": {"field": "x", "type": "quantitative", "scale": {"domain": [0, 60]}, "axis": {"values": [0,10,20,30,40,50,60], "tickCount": 20, "format": "d", "title": "Distance / nm", "labelOverlap": false}},
        "y": {"field": "y", "type": "quantitative", "scale": {"domain": [0, 80]}, "axis": {"values": [0,20,40,60,80], "tickCount": 20, "format": "d", "labelOverlap": false, "title": "Cr concentration / %, atomic fraction", "titleX": -14, "titleY": -10, "titleAlign": "center", "titleBaseline": "bottom", "titleAngle": -90}},
        "color": {"datum": "Experimental data", "scale": {"domain": ["Experimental data", "Exp. smoothed"], "range": ["#3e3e9e", "#e02a1f"]}, "legend": {"title": null}}}},
      {"data": {"name": "a3m"}, "mark": {"type": "line", "strokeWidth": 1.2},
       "encoding": {
        "x": {"field": "x", "type": "quantitative"},
        "y": {"field": "y", "type": "quantitative"},
        "color": {"datum": "Exp. smoothed"}}}
    ]}
   ], "spacing": 20, "bounds": "flush",
   "resolve": {"scale": {"color": "independent"}, "legend": {"color": "independent"}}},
  {"width": 173, "height": 143, "layer": [
    {"data": {"name": "b3"}, "mark": {"type": "line", "interpolate": "step", "strokeWidth": 1},
     "encoding": {
      "x": {"field": "x", "type": "quantitative", "scale": {"domain": [0, 100]}, "axis": {"values": [0,20,40,60,80,100], "tickCount": 20, "format": "d", "title": "Concentration / %, atomic fraction", "labelOverlap": false}},
      "y": {"field": "y", "type": "quantitative", "scale": {"domain": [0, 14]}, "axis": {"values": [0,2,4,6,8,10,12,14], "tickCount": 20, "format": "d", "title": "Frequency / %", "labelOverlap": false}},
      "color": {"field": "s", "type": "nominal", "scale": {"domain": ["Cr exp.", "Cr sim.", "Fe exp.", "Fe sim."], "range": ["#3b3b98", "#5050ad", "#f04535", "#e8402e"]}, "legend": {"title": null, "symbolSize": 400, "rowPadding": 2.5}},
      "strokeDash": {"field": "s", "type": "nominal", "scale": {"domain": ["Cr exp.", "Cr sim.", "Fe exp.", "Fe sim."], "range": [[1, 0], [1.5, 1.2], [1, 0], [1.5, 1.2]]}, "legend": {"title": null, "symbolSize": 400, "rowPadding": 2.5}}}},
    {"data": {"values": [{"t": "(b3)"}]}, "mark": {"type": "text", "align": "left", "baseline": "middle", "dx": 2, "dy": 8, "fontSize": 7.5, "color": "#222222"},
     "encoding": {"x": {"datum": 0}, "y": {"datum": 14}, "text": {"field": "t"}}}
  ]}
 ],
 "spacing": 6, "center": true,
 "resolve": {"scale": {"color": "independent", "strokeDash": "independent"}, "legend": {"color": "independent", "strokeDash": "independent"}}
}
]
}
